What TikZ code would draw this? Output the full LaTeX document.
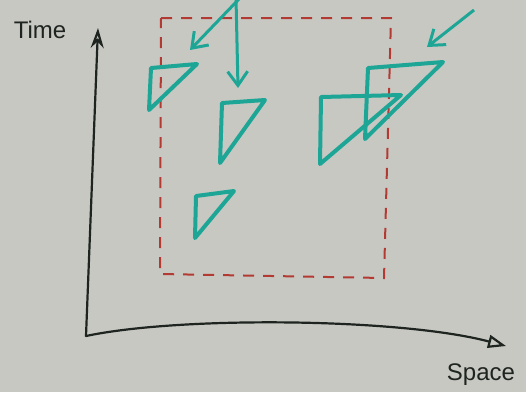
\documentclass[tikz,border=0pt]{standalone}
\usepackage{fontspec}
\setmainfont{Liberation Sans}
\usetikzlibrary{arrows.meta,positioning}
\definecolor{board}{HTML}{C8C8C3}
\definecolor{marker}{HTML}{1DA596}
\definecolor{boxred}{HTML}{B23A32}
\definecolor{ink}{HTML}{1E2420}

\tikzset{
  axisline/.style={ink,line width=2.2pt,line cap=round},
  region/.style={boxred,line width=2pt,dash pattern=on 11pt off 9pt},
  tri/.style={marker,line width=4pt,line join=round},
  pointer/.style={marker,line width=3pt,-{Straight Barb[length=14pt,width=20pt]}},
  axislabel/.style={font=\fontsize{24}{26}\selectfont,ink}
}

\begin{document}
\begin{tikzpicture}[x=1pt,y=-1pt]
  \fill[board] (0,0) rectangle (526,392);
  \useasboundingbox (0,0) rectangle (526,392);

  % axes
  \coordinate (origin) at (86,336);
  \coordinate (ytop) at (98,28);
  \coordinate (xend) at (506,346);
  \draw[axisline,-{Stealth[open,length=20pt,width=13pt]}] (origin) -- (ytop);
  \draw[axisline,-{Triangle[open,length=18pt,width=13pt]}] (origin)
        .. controls (180,316) and (400,318) .. (xend);
  \node[axislabel] (tlabel) at (40,30) {Time};
  \node[axislabel] (slabel) at (481,375) {Space};

  % dashed region
  \draw[region] (161,18) -- (391,18) -- (384,278) -- (160,274) -- cycle;

  % triangles
  \draw[tri] (151,68) -- (197,64) -- (149,110) -- cycle;
  \draw[tri] (222,103) -- (265,100) -- (220,163) -- cycle;
  \draw[tri] (196,196) -- (234,191) -- (195,238) -- cycle;
  \draw[tri] (321,97) -- (401,95) -- (320,164) -- cycle;
  \draw[tri] (368,68) -- (443,62) -- (365,139) -- cycle;

  % pointers
  \coordinate (pa) at (240,-2);
  \coordinate (pb) at (236,-2);
  \coordinate (pc) at (474,10);
  \coordinate (ta) at (190,50);
  \coordinate (tb) at (238,88);
  \coordinate (tc) at (427,47);
  \draw[pointer] (pa) -- (ta);
  \draw[pointer] (pb) -- (tb);
  \draw[pointer] (pc) -- (tc);
\end{tikzpicture}
\end{document}
